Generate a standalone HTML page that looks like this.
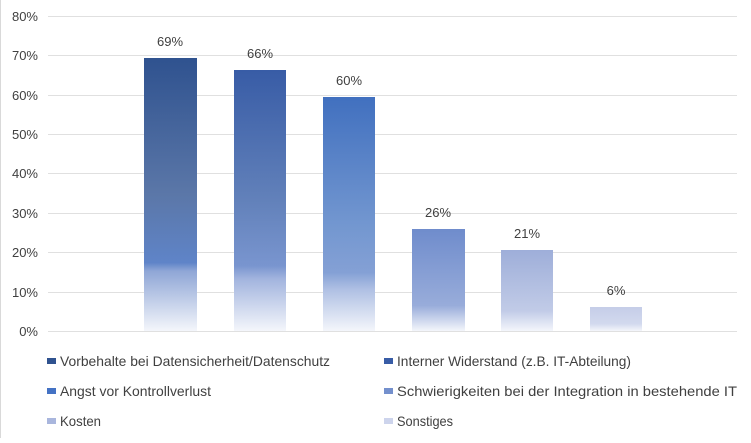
<!DOCTYPE html>
<html><head><meta charset="utf-8"><style>
html,body{margin:0;padding:0;background:#fff}
svg text{font-family:"Liberation Sans",sans-serif;fill:#404040}
</style></head><body>
<svg width="751" height="438" xmlns="http://www.w3.org/2000/svg">
<defs>
<linearGradient id="g1" x1="0" y1="0" x2="0" y2="1"><stop offset="0" stop-color="#2f528f"/><stop offset="0.5" stop-color="#5b77a8"/><stop offset="0.75" stop-color="#5f84c8"/><stop offset="0.78" stop-color="#8fa6d6"/><stop offset="1" stop-color="#f4f6fb"/></linearGradient>
<linearGradient id="g2" x1="0" y1="0" x2="0" y2="1"><stop offset="0" stop-color="#385ca6"/><stop offset="0.5" stop-color="#6281ba"/><stop offset="0.75" stop-color="#7995cf"/><stop offset="0.8" stop-color="#a2b4de"/><stop offset="1" stop-color="#f4f6fb"/></linearGradient>
<linearGradient id="g3" x1="0" y1="0" x2="0" y2="1"><stop offset="0" stop-color="#4170bf"/><stop offset="0.55" stop-color="#7397d0"/><stop offset="0.75" stop-color="#84a0d5"/><stop offset="0.82" stop-color="#aebfe3"/><stop offset="1" stop-color="#f4f6fb"/></linearGradient>
<linearGradient id="g4" x1="0" y1="0" x2="0" y2="1"><stop offset="0" stop-color="#6f8ccc"/><stop offset="0.75" stop-color="#98acda"/><stop offset="1" stop-color="#f4f6fb"/></linearGradient>
<linearGradient id="g5" x1="0" y1="0" x2="0" y2="1"><stop offset="0" stop-color="#9eaed9"/><stop offset="0.75" stop-color="#c1cbe7"/><stop offset="1" stop-color="#f4f6fb"/></linearGradient>
<linearGradient id="g6" x1="0" y1="0" x2="0" y2="1"><stop offset="0" stop-color="#c5cde8"/><stop offset="0.7" stop-color="#d2d9ee"/><stop offset="1" stop-color="#f4f6fb"/></linearGradient>
</defs>
<line x1="0.5" y1="0" x2="0.5" y2="438" stroke="#d9d9d9"/>
<g stroke="#e0e0e0" stroke-width="1">
<line x1="48" y1="16.5" x2="737" y2="16.5"/><line x1="48" y1="55.5" x2="737" y2="55.5"/>
<line x1="48" y1="95.5" x2="737" y2="95.5"/><line x1="48" y1="134.5" x2="737" y2="134.5"/>
<line x1="48" y1="173.5" x2="737" y2="173.5"/><line x1="48" y1="213.5" x2="737" y2="213.5"/>
<line x1="48" y1="252.5" x2="737" y2="252.5"/><line x1="48" y1="292.5" x2="737" y2="292.5"/>
<line x1="48" y1="331.5" x2="737" y2="331.5"/>
</g>
<g font-size="13" text-anchor="end">
<text x="38" y="21">80%</text><text x="38" y="60">70%</text><text x="38" y="100">60%</text>
<text x="38" y="139">50%</text><text x="38" y="178">40%</text><text x="38" y="218">30%</text>
<text x="38" y="257">20%</text><text x="38" y="297">10%</text><text x="38" y="336">0%</text>
</g>
<rect x="144" y="58" width="53" height="273" fill="url(#g1)"/>
<rect x="234" y="70" width="52" height="261" fill="url(#g2)"/>
<rect x="323" y="97" width="52" height="234" fill="url(#g3)"/>
<rect x="412" y="229" width="53" height="102" fill="url(#g4)"/>
<rect x="501" y="250" width="52" height="81" fill="url(#g5)"/>
<rect x="590" y="307" width="52" height="24" fill="url(#g6)"/>
<g font-size="13" text-anchor="middle">
<text x="170" y="46">69%</text><text x="260" y="58">66%</text><text x="349" y="85">60%</text>
<text x="438" y="217">26%</text><text x="527" y="238">21%</text><text x="616" y="295">6%</text>
</g>
<g font-size="14">
<rect x="47" y="358" width="9" height="6" fill="#2f528f"/><text x="60" y="366" textLength="270" lengthAdjust="spacingAndGlyphs">Vorbehalte bei Datensicherheit/Datenschutz</text>
<rect x="384" y="358" width="9" height="6" fill="#385ca6"/><text x="397" y="366" textLength="234" lengthAdjust="spacingAndGlyphs">Interner Widerstand (z.B. IT-Abteilung)</text>
<rect x="47" y="388" width="9" height="6" fill="#4472c4"/><text x="60" y="396" textLength="151" lengthAdjust="spacingAndGlyphs">Angst vor Kontrollverlust</text>
<rect x="384" y="388" width="9" height="6" fill="#7490cd"/><text x="397" y="396" textLength="340" lengthAdjust="spacingAndGlyphs">Schwierigkeiten bei der Integration in bestehende IT</text>
<rect x="47" y="418" width="9" height="6" fill="#a9b6dd"/><text x="60" y="426" textLength="41" lengthAdjust="spacingAndGlyphs">Kosten</text>
<rect x="384" y="418" width="9" height="6" fill="#cdd4ec"/><text x="397" y="426" textLength="56" lengthAdjust="spacingAndGlyphs">Sonstiges</text>
</g>
</svg>
</body></html>
